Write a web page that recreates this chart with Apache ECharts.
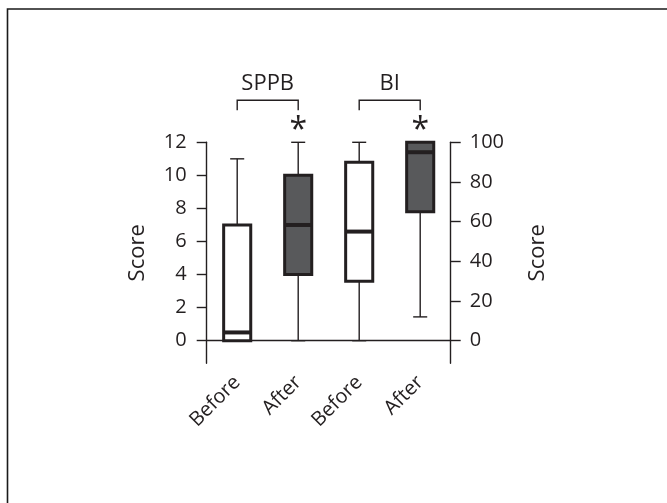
<!DOCTYPE html>
<html>
<head>
<meta charset="utf-8">
<script src="https://cdn.jsdelivr.net/npm/echarts@6/dist/echarts.min.js"></script>
<style>html,body{margin:0;padding:0;background:#fff;}#c{width:667px;height:503px;}</style>
</head>
<body>
<div id="c"></div>
<script>
// ---- data ----
var categories = ['Before', 'After', 'Before', 'After'];
// [min, Q1, median, Q3, max]
var sppbBoxes = [[0, 0, 0.5, 7, 11], [0, 4, 7, 10, 12]];
var biBoxes = [[0, 30, 55, 90, 100], [12, 65, 95, 100, 100]];
var leftTicks = [0, 2, 4, 6, 8, 10, 12];
var rightTicks = [0, 20, 40, 60, 80, 100];
var groupNames = ['SPPB', 'BI'];
var significant = [false, true, false, true];

var ink = '#231f20';
var fills = ['#ffffff', '#58595b', '#ffffff', '#58595b'];
var font = "'Open Sans', 'Noto Sans', sans-serif";

var sppbData = sppbBoxes.map(function (b, i) { return [i].concat(b); });
var biData = biBoxes.map(function (b, i) { return [i + 2].concat(b); });

function renderBox(params, api) {
  var c = api.value(0);
  var pMin = api.coord([c, api.value(1)]);
  var pQ1 = api.coord([c, api.value(2)]);
  var pMed = api.coord([c, api.value(3)]);
  var pQ3 = api.coord([c, api.value(4)]);
  var pMax = api.coord([c, api.value(5)]);
  var bw = api.size([1, 0])[0];
  var half = bw * 0.222;
  var cap = bw * 0.115;
  var x = pMed[0];
  var thin = { stroke: ink, lineWidth: 1.4 };
  var children = [];
  if (pMax[1] < pQ3[1] - 0.5) {
    children.push({ type: 'line', shape: { x1: x, y1: pMax[1], x2: x, y2: pQ3[1] }, style: thin });
    children.push({ type: 'line', shape: { x1: x - cap, y1: pMax[1], x2: x + cap, y2: pMax[1] }, style: thin });
  }
  if (pMin[1] > pQ1[1] + 0.5) {
    children.push({ type: 'line', shape: { x1: x, y1: pQ1[1], x2: x, y2: pMin[1] }, style: thin });
    children.push({ type: 'line', shape: { x1: x - cap, y1: pMin[1], x2: x + cap, y2: pMin[1] }, style: thin });
  }
  children.push({ type: 'rect', shape: { x: x - half, y: pQ3[1], width: half * 2, height: pQ1[1] - pQ3[1] },
    style: { fill: fills[c], stroke: ink, lineWidth: 3 } });
  children.push({ type: 'line', shape: { x1: x - half, y1: pMed[1], x2: x + half, y2: pMed[1] },
    style: { stroke: ink, lineWidth: 4 } });
  return { type: 'group', children: children };
}

var lMax = 12, rMax = 100;
var extraFrac = 0.1139;
var axisCommon = {
  axisLine: { show: true, lineStyle: { color: ink, width: 1.4 } },
  axisTick: { show: true, length: 10, inside: false, lineStyle: { color: ink, width: 1.4 } },
  splitLine: { show: false },
  nameLocation: 'middle',
  nameTextStyle: { fontSize: 22, color: ink, fontFamily: font }
};

var chart = echarts.init(document.getElementById('c'), null, { renderer: 'canvas' });
chart.setOption({
  backgroundColor: '#ffffff',
  animation: false,
  grid: { left: 206.7, right: 216.3, top: 142.3, bottom: 139.7 },
  xAxis: {
    type: 'category',
    data: categories,
    boundaryGap: true,
    axisLine: { lineStyle: { color: ink, width: 1.4 } },
    axisTick: { length: 10, alignWithLabel: false, lineStyle: { color: ink, width: 1.4 } },
    axisLabel: { rotate: 45, fontSize: 20, color: ink, fontFamily: font, margin: 16, interval: 0 }
  },
  yAxis: [
    Object.assign({}, axisCommon, {
      type: 'value', position: 'left', name: 'Score', nameGap: 58, nameRotate: 90,
      min: -lMax * extraFrac, max: lMax,
      axisTick: Object.assign({}, axisCommon.axisTick, { customValues: leftTicks }),
      axisLabel: { customValues: leftTicks, fontSize: 20, color: ink, fontFamily: font, margin: 20 }
    }),
    Object.assign({}, axisCommon, {
      type: 'value', position: 'right', name: 'Score', nameGap: 76, nameRotate: 90,
      min: -rMax * extraFrac, max: rMax,
      axisTick: Object.assign({}, axisCommon.axisTick, { customValues: rightTicks }),
      axisLabel: { customValues: rightTicks, fontSize: 20, color: ink, fontFamily: font, margin: 19 }
    })
  ],
  series: [
    { type: 'custom', name: 'SPPB', yAxisIndex: 0, renderItem: renderBox, data: sppbData,
      encode: { x: 0, y: [1, 2, 3, 4, 5] }, clip: false },
    { type: 'custom', name: 'BI', yAxisIndex: 1, renderItem: renderBox, data: biData,
      encode: { x: 0, y: [1, 2, 3, 4, 5] }, clip: false }
  ]
});

// annotations: group brackets, names and significance stars
function catX(i) {
  var p = chart.convertToPixel({ xAxisIndex: 0, yAxisIndex: 0 }, [i, 0]);
  return p[0];
}
var g = [];
g.push({ type: 'polyline', shape: { points: [[7.5, 503], [7.5, 9], [667, 9]] },
  style: { stroke: '#1a1a1a', lineWidth: 1.6, fill: null }, silent: true });
var gridTop = 142.3;
for (var k = 0; k < 2; k++) {
  var xa = catX(2 * k);
  var xb = catX(2 * k + 1);
  g.push({ type: 'polyline', shape: { points: [[xa, gridTop - 32], [xa, gridTop - 42], [xb, gridTop - 42], [xb, gridTop - 32]] },
    style: { stroke: ink, lineWidth: 1.4, fill: null } });
  g.push({ type: 'text', x: (xa + xb) / 2, y: gridTop - 59,
    style: { text: groupNames[k], font: '22px ' + font, fill: ink, textAlign: 'center', textVerticalAlign: 'middle' } });
}
for (var i = 0; i < categories.length; i++) {
  if (!significant[i]) continue;
  var xs = catX(i);
  g.push({ type: 'text', x: xs, y: gridTop - 11,
    style: { text: '*', font: '32px ' + font, fill: ink, textAlign: 'center', textVerticalAlign: 'middle' } });
}
chart.setOption({ graphic: g });
</script>
</body>
</html>
